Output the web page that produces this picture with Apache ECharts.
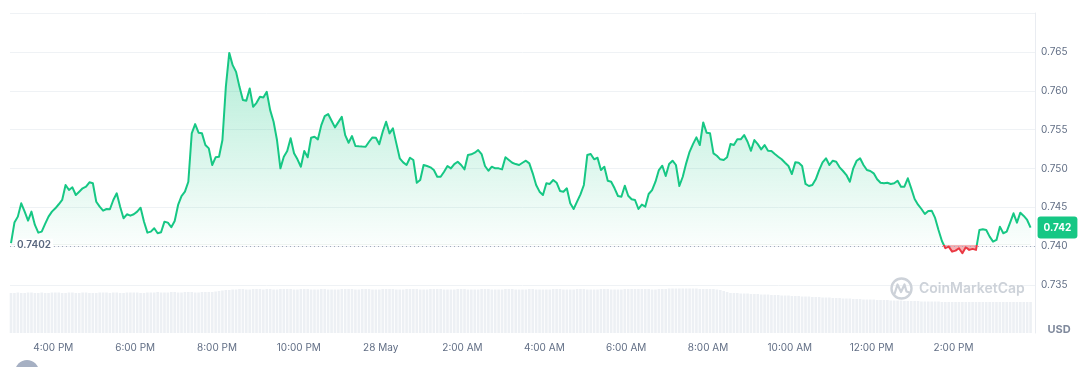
<!DOCTYPE html>
<html><head><meta charset="utf-8">
<script src="https://cdn.jsdelivr.net/npm/echarts@6/dist/echarts.min.js"></script>
<style>html,body{margin:0;padding:0;background:#fff}#c{width:1087px;height:367px}</style>
</head><body><div id="c"></div>
<script>
// ---- data ----
// x values are minutes since midnight of 27 May
const startMinute = 14 * 60 + 58;
const stepMinutes = 5;
const baseline = 0.7402;
const prices = [
0.7404,0.74304,0.74381,0.74553,0.74445,0.74329,0.74445,0.74274,0.74175,0.74188,
0.74287,0.74381,0.74445,0.74488,0.74540,0.74595,0.74788,0.74723,0.74758,0.74659,
0.74702,0.74745,0.74766,0.74822,0.74810,0.74573,0.74509,0.74458,0.74479,0.74476,
0.74595,0.74681,0.74509,0.74360,0.74411,0.74393,0.74411,
0.74445,0.74496,0.74316,0.74175,0.74188,0.74232,0.74167,0.74180,0.74316,0.74304,
0.74244,0.74325,0.74531,0.74646,0.74702,0.74830,0.75452,0.75571,0.75460,0.75452,
0.75302,0.75259,0.75045,0.75144,0.75151,0.75366,0.76050,0.76487,0.76329,0.76243,
0.76050,0.75880,0.75871,0.76030,0.75793,0.75845,0.75922,0.75914,
0.75986,0.75751,0.75601,0.75366,0.75002,0.75151,0.75224,0.75388,0.75195,0.75118,
0.75023,0.75224,0.75144,0.75395,0.75408,0.75375,0.75558,0.75674,0.75700,0.75614,
0.75529,0.75597,0.75665,0.75430,0.75331,0.75417,0.75289,0.75285,0.75282,0.75280,
0.75344,0.75400,0.75395,0.75311,0.75472,0.75601,0.75452,0.75516,
0.75323,0.75131,0.75079,0.75045,0.75138,0.75109,0.74817,0.74852,0.75045,0.75032,
0.75015,0.74980,0.74894,0.74894,0.74959,0.75032,0.75002,0.75057,0.75087,0.75045,
0.74989,0.75173,0.75182,0.75203,0.75237,0.75186,0.75032,0.74971,0.75023,0.75002,
0.75002,0.74989,0.75144,0.75109,0.75074,0.75057,0.75045,0.75074,
0.75100,0.75066,0.74938,0.74788,0.74702,0.74659,0.74810,0.74801,0.74852,0.74817,
0.74711,0.74702,0.74745,0.74553,0.74479,0.74573,0.74668,0.74788,0.75173,0.75186,
0.75118,0.75138,0.74980,0.75023,0.74843,0.74830,0.74745,0.74646,0.74637,0.74779,
0.74650,0.74604,0.74595,0.74479,0.74535,0.74509,0.74672,0.74723,
0.74830,0.74980,0.75036,0.74903,0.75057,0.75100,0.75045,0.74775,0.74894,0.75066,
0.75215,0.75314,0.75400,0.75302,0.75593,0.75460,0.75452,0.75195,0.75164,0.75118,
0.75109,0.75144,0.75314,0.75302,0.75375,0.75375,0.75430,0.75344,0.75228,0.75366,
0.75314,0.75246,0.75302,0.75228,0.75224,0.75186,0.75151,0.75118,
0.75074,0.75032,0.74929,0.75079,0.75074,0.75032,0.74801,0.74775,0.74788,0.74861,
0.74980,0.75079,0.75131,0.75045,0.75100,0.75087,0.75015,0.74968,0.74916,0.74830,
0.75002,0.75100,0.75131,0.75045,0.74980,0.74968,0.74938,0.74861,0.74817,0.74810,
0.74817,0.74801,0.74810,0.74843,0.74766,0.74766,0.74874,0.74745,
0.74608,0.74535,0.74479,0.74415,0.74454,0.74458,0.74364,0.74210,0.74068,0.73975,
0.73995,0.73931,0.73944,0.73975,0.73910,0.73987,0.73953,0.73966,0.73953,0.74210,
0.74219,0.74210,0.74124,0.74059,0.74081,0.74252,0.74167,0.74188,0.74304,0.74424,
0.74304,0.74432,0.74390,0.74338,0.74240
];
const volumes = [
80,80,81,80,80,81,81,80,80,81, 80,80,81,81,81,80,80,81,81,80,
80,81,81,80,80,80,81,81,81,80, 81,81,80,80,81,81,81,81,80,80,
81,81,81,82,81,81,81,82,82,81, 81,82,82,82,81,81,82,82,82,82,
83,84,85,86,86,
87,87,88,88,87,87,88,88,88,87, 88,88,87,87,88,88,88,88,87,87,
88,88,88,87,87,87,88,88,87,87, 87,87,88,88,88,88,87,87,88,88,
88,87,87,87,88,88,88,88,87,87, 87,88,88,88,88,87,87,87,88,88,
88,88,87,87,87,87,88,88,88,87, 87,87,87,88,88,88,87,87,87,87,
88,88,88,87,87,87,87,88,88,87, 87,87,87,87,88,88,88,87,87,87,
87,88,88,88,87,87,87,87,88,88, 88,87,87,87,87,88,88,88,88,88,
88,88,88,87,87,88,88,88,89,89, 89,89,89,89,89,89,89,88,88,88,88,
88,87,86,84,82,80,
80,80,79,79,79,78,78,78,77,77, 77,76,76,76,75,75,75,74,74,74,
73,73,73,72,72,72,71,71,71,70, 70,70,69,69,69,68,68,68,67,67,
67,67,66,66,66,66,65,65,65,65, 64,64,64,64,64,63,63,63,63,63,63,
62,62,62,62,62,62,62,62,62,62, 62,62,62,62,62,62,62,62,62,62,
62,62,62,62,62,62,62
];
const tickHours = [16, 18, 20, 22, 24, 26, 28, 30, 32, 34, 36, 38];
const tickLabels = ['4:00 PM','6:00 PM','8:00 PM','10:00 PM','28 May','2:00 AM','4:00 AM','6:00 AM','8:00 AM','10:00 AM','12:00 PM','2:00 PM'];

// ---- build ----
const times = prices.map((_, i) => startMinute + i * stepMinutes);
const priceData = prices.map((v, i) => [times[i], v]);
const volData = volumes.map((v, i) => [startMinute + i * stepMinutes, v]);
const tickMinutes = tickHours.map(h => h * 60);
const xMin = startMinute - 1.5;
const xMax = xMin + 1503;
const lastIdx = prices.length - 1;
const lastVal = prices[lastIdx];

const LABEL = '#616E85';
const GRID = '#eff2f5';
const chart = echarts.init(document.getElementById('c'), null, {renderer: 'canvas'});

const areaGrad = new echarts.graphic.LinearGradient(0, 52, 0, 254, [
  {offset: 0, color: 'rgba(22,199,132,0.32)'},
  {offset: 0.952, color: 'rgba(22,199,132,0.02)'},
  {offset: 0.955, color: 'rgba(234,57,67,0.38)'},
  {offset: 1, color: 'rgba(234,57,67,0.42)'}
], true);

chart.setOption({
  animation: false,
  textStyle: {fontFamily: 'Inter, "Noto Sans", sans-serif'},
  grid: [
    {left: 10, right: 52, top: 13, height: 311},
    {left: 10, right: 52, top: 283, height: 50}
  ],
  xAxis: [
    {type: 'value', gridIndex: 0, min: xMin, max: xMax, show: false, splitLine: {show: false}},
    {type: 'value', gridIndex: 1, min: xMin, max: xMax,
     axisLine: {show: false}, axisTick: {show: false}, splitLine: {show: false},
     axisLabel: {customValues: tickMinutes, color: LABEL, fontSize: 10, margin: 10,
       hideOverlap: false,
       formatter: v => { const i = tickMinutes.indexOf(v); return i >= 0 ? tickLabels[i] : ''; }}}
  ],
  yAxis: [
    {type: 'value', gridIndex: 0, position: 'right', min: 0.730, max: 0.770, interval: 0.005,
     axisLine: {show: true, lineStyle: {color: '#e9ecf1'}}, axisTick: {show: false},
     splitLine: {show: true, showMinLine: false, lineStyle: {color: GRID, width: 1}},
     axisLabel: {color: LABEL, fontSize: 10, margin: 6,
       formatter: v => (v > 0.7325 && v < 0.7675) ? v.toFixed(3) : ''}},
    {type: 'value', gridIndex: 1, position: 'right', min: 0, max: 100,
     axisLine: {show: true, lineStyle: {color: '#e9ecf1'}}, axisTick: {show: false},
     axisLabel: {show: false}, splitLine: {show: false}}
  ],
  visualMap: {
    show: false, type: 'piecewise', seriesIndex: 0, dimension: 1,
    pieces: [{gte: 0.70, lt: baseline, color: '#ea3943'}, {gte: baseline, lte: 0.80, color: '#16c784'}],
    outOfRange: {color: '#16c784'}
  },
  series: [
    {
      type: 'line', xAxisIndex: 0, yAxisIndex: 0, data: priceData,
      showSymbol: false, symbol: 'none', z: 3,
      lineStyle: {width: 2, join: 'round'},
      areaStyle: {origin: baseline, color: areaGrad, opacity: 1},
      markLine: {
        silent: true, symbol: ['none', 'none'], animation: false,
        label: {show: false},
        lineStyle: {color: '#a3abbd', type: [1, 3], width: 1},
        data: [{yAxis: baseline}]
      },
      markPoint: {
        silent: true, symbol: 'circle', symbolSize: 0, animation: false,
        itemStyle: {color: 'rgba(0,0,0,0)'},
        data: [
          {coord: [times[0], baseline],
           label: {show: true, position: 'right', distance: 4,
             formatter: () => baseline.toFixed(4),
             color: '#58667e', fontSize: 10, fontWeight: 600,
             backgroundColor: '#fff', padding: [1, 2]}},
          {coord: [times[lastIdx], lastVal],
           label: {show: true, position: 'right', distance: 7,
             formatter: () => lastVal.toFixed(3),
             backgroundColor: '#16c784', color: '#fff', fontWeight: 'bold', fontSize: 10,
             lineHeight: 12, padding: [5, 6, 5, 6], borderRadius: 3}}
        ]
      }
    },
    {
      type: 'bar', xAxisIndex: 1, yAxisIndex: 1, data: volData,
      barWidth: 2.6, silent: true, z: 1,
      itemStyle: {color: '#edf0f4'}
    }
  ],
  graphic: [
    {type: 'text', x: 1047.5, y: 329.5, z: 10,
     style: {text: 'USD', fill: '#808a9d', font: 'bold 11px Inter', verticalAlign: 'middle'}},
    {type: 'circle', z: 10, shape: {cx: 901.5, cy: 288.5, r: 10},
     style: {fill: 'none', stroke: '#cdd2d9', lineWidth: 2.4}},
    {type: 'polyline', z: 10,
     shape: {points: [[894.5, 294], [897.5, 284.5], [901, 292], [904.5, 284.5], [906.5, 291.5], [909.5, 292.5]]},
     style: {fill: 'none', stroke: '#cdd2d9', lineWidth: 2.2, lineJoin: 'round', lineCap: 'round'}},
    {type: 'text', x: 919, y: 289, z: 10,
     style: {text: 'CoinMarketCap', fill: '#cdd2d9', font: '600 14px Inter', verticalAlign: 'middle'}},
    {type: 'circle', z: 10, shape: {cx: 27, cy: 372, r: 12}, style: {fill: '#a6b0c3'}}
  ]
});
</script></body></html>
